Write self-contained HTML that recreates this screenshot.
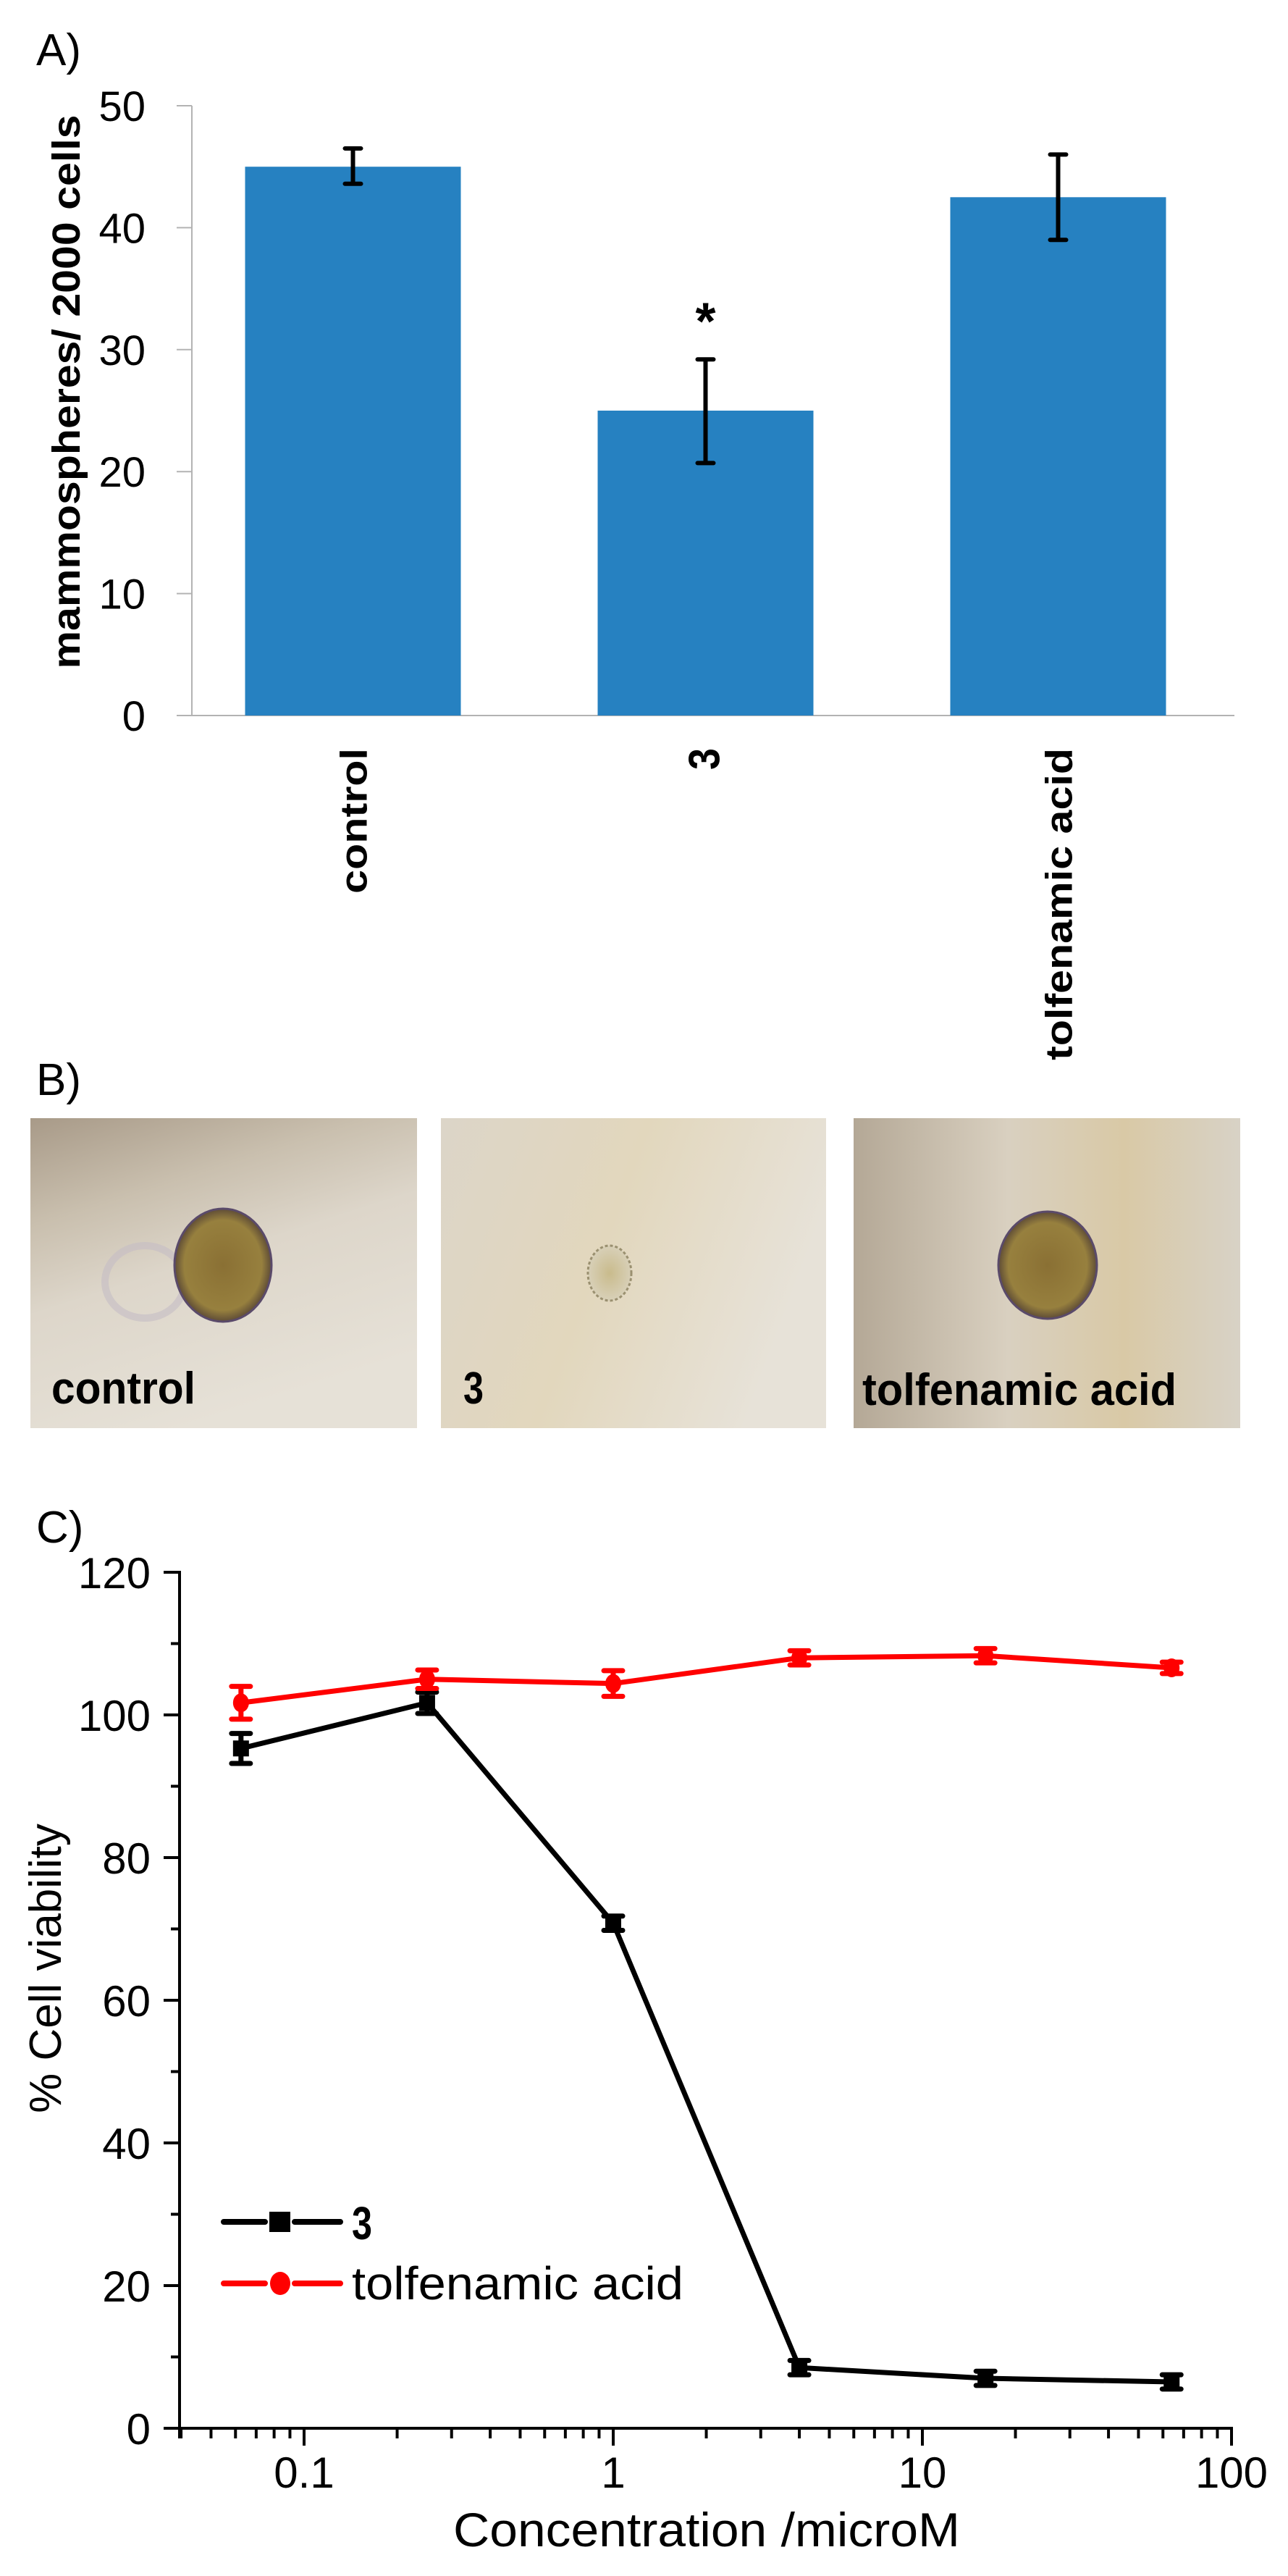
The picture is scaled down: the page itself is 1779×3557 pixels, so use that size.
<!DOCTYPE html>
<html><head><meta charset="utf-8"><style>
html,body{margin:0;padding:0;background:#fff;}
svg{display:block;font-family:"Liberation Sans",sans-serif;}
</style></head><body>
<svg id="fig" width="1779" height="3557" viewBox="0 0 1779 3557" xmlns="http://www.w3.org/2000/svg">
<defs>
<linearGradient id="bg1" x1="0" y1="0" x2="0.4" y2="1">
<stop offset="0" stop-color="#a89a88"/><stop offset="0.3" stop-color="#c9bfae"/><stop offset="0.55" stop-color="#ddd6ca"/><stop offset="1" stop-color="#e6e1d7"/></linearGradient>
<linearGradient id="bg2" x1="0" y1="0" x2="1" y2="0.3">
<stop offset="0" stop-color="#dcd5c8"/><stop offset="0.5" stop-color="#e2d7bd"/><stop offset="1" stop-color="#e7e2d8"/></linearGradient>
<linearGradient id="bg3" x1="0" y1="0" x2="1" y2="0">
<stop offset="0" stop-color="#b4a896"/><stop offset="0.4" stop-color="#d9d0c0"/><stop offset="0.7" stop-color="#d9c9a6"/><stop offset="1" stop-color="#d8d2c6"/></linearGradient>
<radialGradient id="sph" cx="0.5" cy="0.5" r="0.5">
<stop offset="0" stop-color="#8a7034"/><stop offset="0.8" stop-color="#97803e"/><stop offset="1" stop-color="#5e4c36"/></radialGradient>
<radialGradient id="sph3" cx="0.5" cy="0.5" r="0.5">
<stop offset="0" stop-color="#c9bb8c"/><stop offset="1" stop-color="#d8d0b8"/></radialGradient>
</defs>

<!-- Panel A -->
<text x="50" y="90" font-size="62">A)</text>
<g id="barChart"></g>

<!-- Panel B -->
<text x="50" y="1512" font-size="62">B)</text>
<g>
<rect x="42" y="1544" width="534" height="428" fill="url(#bg1)"/>
<ellipse cx="200" cy="1770" rx="55" ry="50" fill="none" stroke="#c4bcc4" stroke-width="10" opacity="0.6"/>
<ellipse cx="308" cy="1747" rx="67" ry="78" fill="url(#sph)" stroke="#5a4a6a" stroke-width="3"/>
<text x="71" y="1938" font-size="62" font-weight="bold" textLength="199" lengthAdjust="spacingAndGlyphs">control</text>
</g>
<g>
<rect x="609" y="1544" width="532" height="428" fill="url(#bg2)"/>
<ellipse cx="842" cy="1758" rx="30" ry="38" fill="url(#sph3)" stroke="#9a9070" stroke-width="3" stroke-dasharray="4 3"/>
<text x="640" y="1938" font-size="62" font-weight="bold" textLength="28" lengthAdjust="spacingAndGlyphs">3</text>
</g>
<g>
<rect x="1179" y="1544" width="534" height="428" fill="url(#bg3)"/>
<ellipse cx="1447" cy="1747" rx="68" ry="74" fill="url(#sph)" stroke="#5a4a6a" stroke-width="3"/>
<text x="1191" y="1940" font-size="62" font-weight="bold" textLength="434" lengthAdjust="spacingAndGlyphs">tolfenamic acid</text>
</g>

<!-- Panel C -->
<text x="50" y="2130" font-size="62">C)</text>
<g id="lineChart"></g>
</svg>
<script>
// ---------- Panel A data ----------
const barCategories = ["control", "3", "tolfenamic acid"];
const barValues = [45, 25, 42.5];
const barErrLow = [43.6, 20.7, 39];
const barErrHigh = [46.5, 29.2, 46];
const barYTicks = [0, 10, 20, 30, 40, 50];

// ---------- Panel C data ----------
const concentrations = [0.0625, 0.25, 1, 4, 16, 64];
const viability3 = [95.3, 101.7, 70.8, 8.5, 7.0, 6.5];
const viability3Err = [2.1, 1.5, 1.0, 1.0, 1.0, 1.0];
const viabilityTolf = [101.7, 105.0, 104.4, 108.0, 108.3, 106.6];
const viabilityTolfErr = [2.3, 1.3, 1.8, 1.0, 1.0, 0.8];
const lineYTicks = [0, 20, 40, 60, 80, 100, 120];
const lineXTicks = [0.1, 1, 10, 100];
const lineXTickLabels = ["0.1", "1", "10", "100"];

const NS = "http://www.w3.org/2000/svg";
function mk(parent, tag, attrs, text) {
  const e = document.createElementNS(NS, tag);
  for (const k in attrs) e.setAttribute(k, attrs[k]);
  if (text !== undefined) e.textContent = text;
  parent.appendChild(e);
  return e;
}

// ---------- Panel A ----------
(function () {
  const g = document.getElementById("barChart");
  const y0 = 988, y50 = 146, axX = 265;
  const yS = v => y0 - (v / 50) * (y0 - y50);
  const slotL = 244, slotW = (1705 - 244) / 3;
  const xC = i => slotL + slotW * (i + 0.5);
  const bw = 298;
  let e;
  e = mk(g, "line", { x1: axX, y1: y50, x2: axX, y2: y0, stroke: "#b3b3b3", "stroke-width": 2 });
  
  
  e = mk(g, "line", { x1: 244, y1: y0, x2: 1705, y2: y0, stroke: "#b3b3b3", "stroke-width": 2 });
  
  
  barYTicks.forEach(t => {
    const y = yS(t);
    const l = mk(g, "line", { x1: 244, y1: y, x2: axX, y2: y, stroke: "#b3b3b3", "stroke-width": 2 });
    
    
    const tx = mk(g, "text", { x: 201, y: y + 21, "font-size": 58, "text-anchor": "end" }, String(t));
    
    
  });
  e = mk(g, "text", { x: 0, y: 0, "font-size": 54, "font-weight": "bold", "text-anchor": "middle",
    transform: "translate(110,541) rotate(-90)", textLength: 765, lengthAdjust: "spacingAndGlyphs" }, "mammospheres/ 2000 cells");
  
  
  const labLen = [201, 30, 431];
  barCategories.forEach((c, i) => {
    const cx = xC(i);
    const r = mk(g, "rect", { x: cx - bw / 2, y: yS(barValues[i]), width: bw, height: y0 - yS(barValues[i]), fill: "#2681c1" });
    
    
    const eb = mk(g, "path", { d: `M${cx - 11},${yS(barErrHigh[i])}H${cx + 11}M${cx},${yS(barErrHigh[i])}V${yS(barErrLow[i])}M${cx - 11},${yS(barErrLow[i])}H${cx + 11}`,
      stroke: "#000", "stroke-width": 6, fill: "none", "stroke-linecap": "round" });
    
    
    const lt = mk(g, "text", { x: 0, y: 0, "font-size": i === 1 ? 60 : 52, "font-weight": "bold", "text-anchor": "end",
      transform: `translate(${cx + 19},1033) rotate(-90)`, textLength: labLen[i], lengthAdjust: "spacingAndGlyphs" }, c);
    
    
  });
  e = mk(g, "text", { x: xC(1), y: yS(barErrHigh[1]) - 28, "font-size": 72, "font-weight": "bold", "text-anchor": "middle" }, "*");
  
  
})();

// ---------- Panel C ----------
(function () {
  const g = document.getElementById("lineChart");
  const y0 = 3353, yPer = 9.85, axX = 248;
  const x1 = 847, dec = 427;
  const xS = v => x1 + Math.log10(v) * dec;
  const yS = v => y0 - v * yPer;
  const xRight = xS(100);
  let e;
  e = mk(g, "line", { x1: axX, y1: yS(120) - 2, x2: axX, y2: y0 + 2, stroke: "#000", "stroke-width": 4 });
  
  
  e = mk(g, "line", { x1: 226, y1: y0, x2: xRight + 2, y2: y0, stroke: "#000", "stroke-width": 4 });
  
  
  for (let v = 0; v <= 120; v += 10) {
    const major = v % 20 === 0;
    const t = mk(g, "line", { x1: axX - (major ? 22 : 12), y1: yS(v), x2: axX, y2: yS(v), stroke: "#000", "stroke-width": 4 });
    
    
  }
  lineYTicks.forEach(v => {
    const t = mk(g, "text", { x: 208, y: yS(v) + 22, "font-size": 60, "text-anchor": "end" }, String(v));
    
    
  });
  for (let d = -2; d <= 1; d++) {
    for (let m = 1; m <= 9; m++) {
      const v = m * Math.pow(10, d);
      const x = xS(v);
      if (x < axX - 1 || x > xRight + 1) continue;
      const t = mk(g, "line", { x1: x, y1: y0, x2: x, y2: y0 + (m === 1 ? 24 : 14), stroke: "#000", "stroke-width": 4 });
      
      
    }
  }
  e = mk(g, "line", { x1: xRight, y1: y0, x2: xRight, y2: y0 + 24, stroke: "#000", "stroke-width": 4 });
  
  
  e = mk(g, "line", { x1: axX, y1: y0, x2: axX, y2: y0 + 14, stroke: "#000", "stroke-width": 4 });
  
  
  lineXTicks.forEach((v, i) => {
    const t = mk(g, "text", { x: xS(v), y: 3435, "font-size": 60, "text-anchor": "middle" }, lineXTickLabels[i]);
    
    
  });
  e = mk(g, "text", { x: 976, y: 3516, "font-size": 66, "text-anchor": "middle", textLength: 700, lengthAdjust: "spacingAndGlyphs" }, "Concentration /microM");
  
  
  e = mk(g, "text", { x: 0, y: 0, "font-size": 62, "text-anchor": "middle", transform: "translate(84,2718) rotate(-90)" }, "% Cell viability");
  
  

  function series(vals, errs, color, name, square) {
    const sg = mk(g, "g", {});
    
    
    const pts = concentrations.map((c, i) => xS(c) + "," + yS(vals[i])).join(" ");
    const pl = mk(sg, "polyline", { points: pts, fill: "none", stroke: color, "stroke-width": 7, "stroke-linejoin": "round" });
    
    
    concentrations.forEach((c, i) => {
      const x = xS(c), y = yS(vals[i]), hi = yS(vals[i] + errs[i]), lo = yS(vals[i] - errs[i]);
      const eb = mk(sg, "path", { d: `M${x - 13},${hi}H${x + 13}M${x},${hi}V${lo}M${x - 13},${lo}H${x + 13}`, stroke: color, "stroke-width": 7, fill: "none", "stroke-linecap": "round" });
      
      
      let m;
      if (square) m = mk(sg, "rect", { x: x - 11, y: y - 11, width: 22, height: 22, fill: color });
      else m = mk(sg, "ellipse", { cx: x, cy: y, rx: 11, ry: 13, fill: color });
      
      
    });
  }
  series(viability3, viability3Err, "#000", "3", true);
  series(viabilityTolf, viabilityTolfErr, "#ff0000", "tolfenamic-acid", false);

  const lg = mk(g, "g", {});
  
  
  let l = mk(lg, "path", { d: "M309,3068H366M407,3068H470", stroke: "#000", "stroke-width": 8, "stroke-linecap": "round" });
  
  
  l = mk(lg, "rect", { x: 372, y: 3054, width: 29, height: 28, fill: "#000" });
  
  
  l = mk(lg, "text", { x: 486, y: 3092, "font-size": 64, "font-weight": "bold", textLength: 28, lengthAdjust: "spacingAndGlyphs" }, "3");
  
  
  l = mk(lg, "path", { d: "M309,3153H366M407,3153H470", stroke: "#ff0000", "stroke-width": 8, "stroke-linecap": "round" });
  
  
  l = mk(lg, "ellipse", { cx: 387, cy: 3153, rx: 14, ry: 16, fill: "#ff0000" });
  
  
  l = mk(lg, "text", { x: 486, y: 3175, "font-size": 64, textLength: 458, lengthAdjust: "spacingAndGlyphs" }, "tolfenamic acid");
  
  
})();
</script>
</body></html>
